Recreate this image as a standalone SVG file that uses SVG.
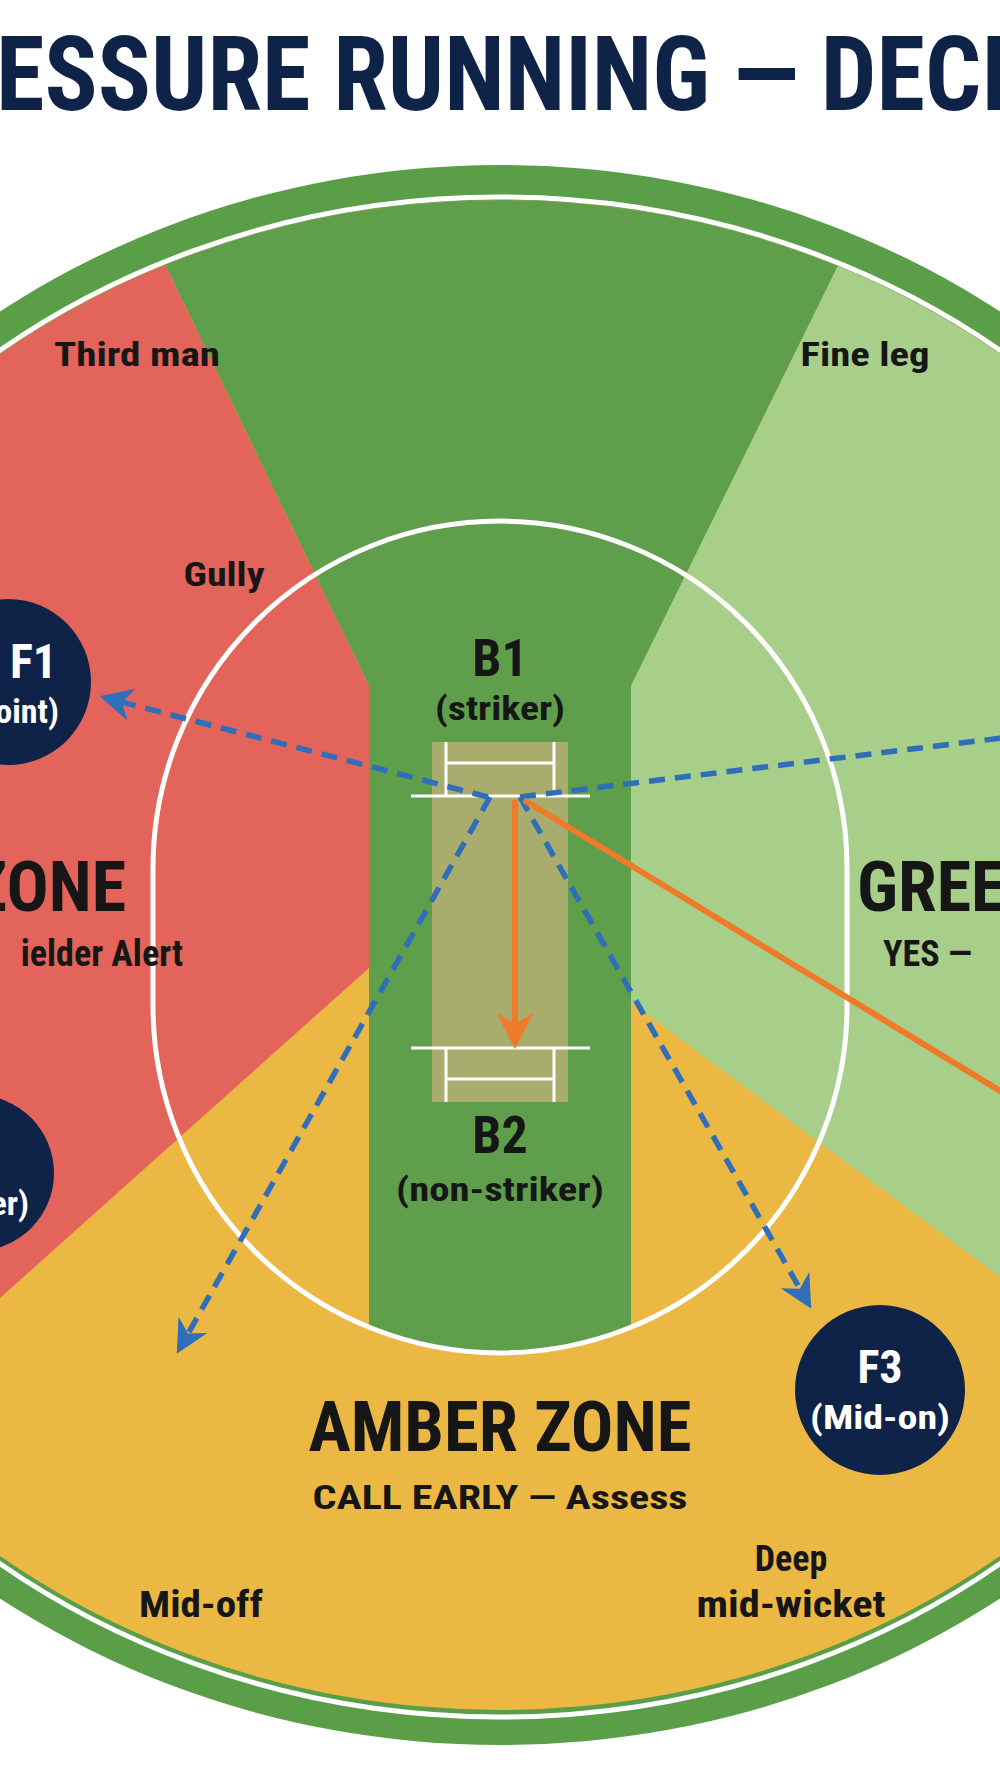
<svg xmlns="http://www.w3.org/2000/svg" width="1000" height="1792" viewBox="0 0 1000 1792">
<style>
text{font-family:"Liberation Sans Narrow","Roboto Condensed","Liberation Sans",sans-serif;font-weight:bold;fill:#161616}
.c{text-anchor:middle}
.w{fill:#ffffff}
.dash{stroke:#2f6fba;stroke-width:5.5;stroke-dasharray:16 10;fill:none}
.or{stroke:#ee7a2a;stroke-width:6;fill:none}
.crease{stroke:#ffffff;stroke-width:3;fill:none}
</style>
<defs>
<clipPath id="field"><ellipse cx="500" cy="955" rx="826" ry="755"/></clipPath>
<clipPath id="inner"><path d="M153 868 A347 347 0 0 1 847 868 L847 1006 A347 347 0 0 1 153 1006 Z"/></clipPath>
<marker id="ab" viewBox="0 0 10 10" refX="8" refY="5" markerWidth="6" markerHeight="6" orient="auto" markerUnits="strokeWidth"><path d="M0 0 L10 5 L0 10 L3 5 Z" fill="#2f6fba"/></marker>
<marker id="ao" viewBox="0 0 10 10" refX="8" refY="5" markerWidth="6" markerHeight="6" orient="auto" markerUnits="strokeWidth"><path d="M0 0 L10 5 L0 10 L3 5 Z" fill="#ee7a2a"/></marker>
</defs>
<rect width="1000" height="1792" fill="#ffffff"/>
<text x="-4" y="110" font-size="104" style="fill:#0f2248" textLength="1012" lengthAdjust="spacingAndGlyphs">ESSURE RUNNING — DECI</text>
<g id="field-bg">
<ellipse cx="500" cy="955" rx="862" ry="790" fill="#5a9e48"/>
<g clip-path="url(#field)">
<rect x="-20" y="0" width="1040" height="1792" fill="#ecb844"/>
<polygon points="37,0 969,0 631,686 369,686" fill="#5f9e4a"/>
<polygon points="-20,0 37,0 369,686 369,968 0,1298 -20,1298" fill="#e2645a"/>
<polygon points="969,0 1020,0 1020,1290 1000,1277 631,1002 631,686" fill="#a8cf8a"/>
<rect x="369" y="686" width="262" height="800" fill="#5f9e4a" clip-path="url(#inner)"/>
</g>
<ellipse cx="500" cy="957" rx="830" ry="760" fill="none" stroke="#ffffff" stroke-width="5"/>
<path d="M153 868 A347 347 0 0 1 847 868 L847 1006 A347 347 0 0 1 153 1006 Z" fill="none" stroke="#ffffff" stroke-width="5"/>
</g>
<g id="pitch">
<rect x="432" y="742" width="136" height="360" fill="#a8ad6e"/>
<line class="crease" x1="411" y1="796" x2="590" y2="796"/>
<line class="crease" x1="446" y1="763" x2="554" y2="763"/>
<line class="crease" x1="446" y1="742" x2="446" y2="796"/>
<line class="crease" x1="554" y1="742" x2="554" y2="796"/>
<line class="crease" x1="411" y1="1048" x2="590" y2="1048"/>
<line class="crease" x1="446" y1="1079" x2="554" y2="1079"/>
<line class="crease" x1="446" y1="1048" x2="446" y2="1102"/>
<line class="crease" x1="554" y1="1048" x2="554" y2="1102"/>
</g>
<g id="connectors">
<line class="dash" x1="488" y1="797" x2="106" y2="698" marker-end="url(#ab)"/>
<line class="dash" x1="520" y1="797" x2="1010" y2="737"/>
<line class="dash" x1="490" y1="797" x2="180" y2="1348" marker-end="url(#ab)"/>
<line class="dash" x1="520" y1="797" x2="808" y2="1303" marker-end="url(#ab)"/>
<line class="or" x1="515" y1="800" x2="515" y2="1042" marker-end="url(#ao)"/>
<line class="or" x1="524" y1="800" x2="1010" y2="1097"/>
</g>
<g id="labels">
<text x="137" y="366" font-size="34" class="c" textLength="166" lengthAdjust="spacingAndGlyphs">Third man</text>
<text x="865" y="366" font-size="34" class="c" textLength="129" lengthAdjust="spacingAndGlyphs">Fine leg</text>
<text x="224" y="586" font-size="34" class="c" textLength="81" lengthAdjust="spacingAndGlyphs">Gully</text>
<text x="126" y="911" font-size="70" text-anchor="end">ZONE</text>
<text x="183" y="966" font-size="36" text-anchor="end">ielder Alert</text>
<text x="857" y="911" font-size="70">GREE</text>
<text x="883" y="966" font-size="36">YES —</text>
<text x="500" y="1451" font-size="70" class="c" textLength="383" lengthAdjust="spacingAndGlyphs">AMBER ZONE</text>
<text x="500" y="1509" font-size="34" class="c" textLength="375" lengthAdjust="spacingAndGlyphs">CALL EARLY — Assess</text>
<text x="201" y="1617" font-size="36" class="c" textLength="124" lengthAdjust="spacingAndGlyphs">Mid-off</text>
<text x="791" y="1571" font-size="36" class="c">Deep</text>
<text x="791" y="1617" font-size="36" class="c" textLength="189" lengthAdjust="spacingAndGlyphs">mid-wicket</text>
</g>
<g id="B1"><text x="500" y="676" font-size="52" class="c">B1</text><text x="500" y="720" font-size="34" class="c" textLength="130" lengthAdjust="spacingAndGlyphs">(striker)</text></g>
<g id="B2"><text x="500" y="1153" font-size="52" class="c">B2</text><text x="500" y="1201" font-size="34" class="c" textLength="208" lengthAdjust="spacingAndGlyphs">(non-striker)</text></g>
<g id="F1"><circle cx="8" cy="682" r="83" fill="#0f2248"/><text x="57" y="678" font-size="48" text-anchor="end" class="w">F1</text><text x="59" y="723" font-size="34" text-anchor="end" class="w">oint)</text></g>
<g id="F2"><circle cx="-24" cy="1173" r="78" fill="#0f2248"/><text x="29" y="1215" font-size="34" text-anchor="end" class="w">er)</text></g>
<g id="F3"><circle cx="880" cy="1390" r="85" fill="#0f2248"/><text x="880" y="1383" font-size="46" class="c w">F3</text><text x="880" y="1429" font-size="34" class="c w" textLength="140" lengthAdjust="spacingAndGlyphs">(Mid-on)</text></g>
</svg>
